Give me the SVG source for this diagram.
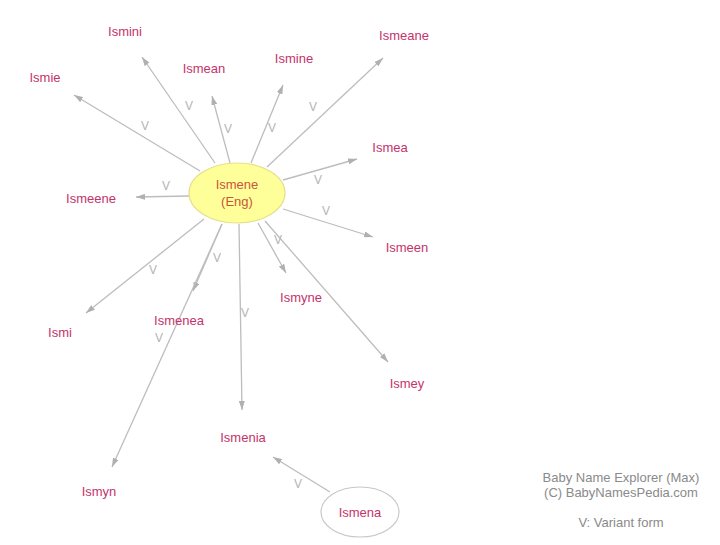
<svg xmlns="http://www.w3.org/2000/svg" width="720" height="545" viewBox="0 0 720 545">
<style>
.lbl{font-family:"Liberation Sans",Arial,sans-serif;font-size:13px;fill:#c4336b;text-anchor:middle}
.v{font-family:"Liberation Sans",Arial,sans-serif;font-size:12px;fill:#b4b4b4;text-anchor:middle}
.e{stroke:#bdbdbd;stroke-width:1.3;fill:none;marker-end:url(#ah)}
.ft{font-family:"Liberation Sans",Arial,sans-serif;font-size:13px;fill:#8a8a8a;text-anchor:middle}
</style>
<defs>
<marker id="ah" markerUnits="userSpaceOnUse" markerWidth="9" markerHeight="6" refX="9" refY="3" orient="auto">
<path d="M0,0 L9,3 L0,6 z" fill="#b0b0b0"/>
</marker>
</defs>
<rect width="720" height="545" fill="#ffffff"/>
<g id="connectors">
<line class="e" x1="215" y1="163" x2="142" y2="57"/>
<line class="e" x1="200" y1="171" x2="74" y2="95"/>
<line class="e" x1="230" y1="163" x2="212" y2="96"/>
<line class="e" x1="251" y1="163" x2="283" y2="85"/>
<line class="e" x1="267" y1="167" x2="383" y2="58"/>
<line class="e" x1="283" y1="180" x2="357" y2="159"/>
<line class="e" x1="189" y1="196" x2="136" y2="197"/>
<line class="e" x1="283" y1="209" x2="373" y2="237"/>
<line class="e" x1="258" y1="223" x2="286" y2="273"/>
<line class="e" x1="265" y1="221" x2="388" y2="362"/>
<line class="e" x1="239" y1="224" x2="242" y2="410"/>
<line class="e" x1="204" y1="219" x2="86" y2="313"/>
<line class="e" x1="222" y1="224" x2="193" y2="291"/>
<line class="e" x1="222" y1="224" x2="112" y2="467"/>
<line class="e" x1="330" y1="492" x2="273" y2="457"/>
<text class="v" x="189" y="110">V</text>
<text class="v" x="145" y="130">V</text>
<text class="v" x="228" y="133">V</text>
<text class="v" x="272" y="132">V</text>
<text class="v" x="313" y="111">V</text>
<text class="v" x="318" y="184">V</text>
<text class="v" x="166" y="190">V</text>
<text class="v" x="326" y="215">V</text>
<text class="v" x="278" y="244">V</text>
<text class="v" x="153" y="274">V</text>
<text class="v" x="217" y="262">V</text>
<text class="v" x="159" y="342">V</text>
<text class="v" x="245" y="317">V</text>
<text class="v" x="298" y="488">V</text>
</g>
<g id="node-ismene">
<ellipse cx="237" cy="193" rx="48" ry="30" fill="#ffff99" stroke="#e6e08a" stroke-width="1.2"/>
<text class="lbl" x="237" y="189" style="fill:#c8553f">Ismene</text>
<text class="lbl" x="237" y="206" style="fill:#c8553f">(Eng)</text>
</g>
<g id="node-ismini"><text class="lbl" x="125" y="36">Ismini</text></g>
<g id="node-ismeane"><text class="lbl" x="404" y="40">Ismeane</text></g>
<g id="node-ismean"><text class="lbl" x="204" y="73">Ismean</text></g>
<g id="node-ismine"><text class="lbl" x="294" y="63">Ismine</text></g>
<g id="node-ismie"><text class="lbl" x="45" y="82">Ismie</text></g>
<g id="node-ismea"><text class="lbl" x="390" y="152">Ismea</text></g>
<g id="node-ismeene"><text class="lbl" x="91" y="203">Ismeene</text></g>
<g id="node-ismeen"><text class="lbl" x="407" y="252">Ismeen</text></g>
<g id="node-ismyne"><text class="lbl" x="301" y="302">Ismyne</text></g>
<g id="node-ismi"><text class="lbl" x="60" y="337">Ismi</text></g>
<g id="node-ismenea"><text class="lbl" x="179" y="325">Ismenea</text></g>
<g id="node-ismey"><text class="lbl" x="407" y="388">Ismey</text></g>
<g id="node-ismenia"><text class="lbl" x="243" y="442">Ismenia</text></g>
<g id="node-ismyn"><text class="lbl" x="99" y="496">Ismyn</text></g>
<g id="node-ismena">
<ellipse cx="360" cy="512" rx="39" ry="25" fill="#ffffff" stroke="#c8c8c8" stroke-width="1.2"/>
<text class="lbl" x="360" y="517">Ismena</text>
</g>
<g id="legend">
<text class="ft" x="621" y="482">Baby Name Explorer (Max)</text>
<text class="ft" x="621" y="497">(C) BabyNamesPedia.com</text>
<text class="ft" x="621" y="527">V: Variant form</text>
</g>
</svg>
